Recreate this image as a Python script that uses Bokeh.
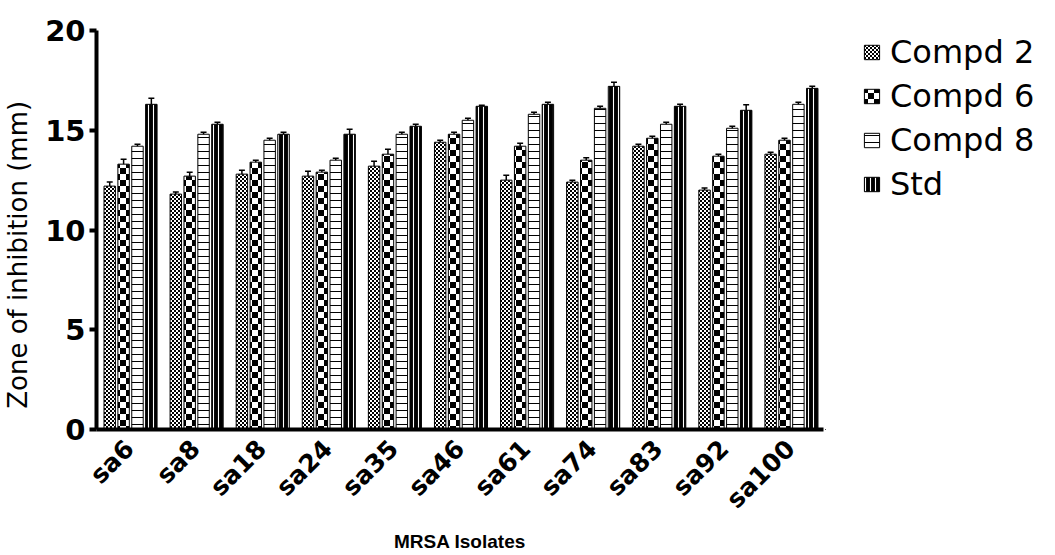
import math
import zlib
import struct
import base64
from bokeh.plotting import figure
from bokeh.layouts import row
from bokeh.models import (ColumnDataSource, Range1d, FactorRange, Legend, LegendItem,
                          ImageURLTexture, FixedTicker)
from bokeh.transform import dodge
from bokeh.core.properties import value
from bokeh.embed import file_html
from bokeh.resources import INLINE

# ---- data ----
isolates = ["sa6", "sa8", "sa18", "sa24", "sa35", "sa46", "sa61", "sa74", "sa83", "sa92", "sa100"]
compd2 = [12.2, 11.8, 12.8, 12.7, 13.2, 14.4, 12.5, 12.4, 14.2, 12.0, 13.8]
compd6 = [13.3, 12.7, 13.4, 12.9, 13.8, 14.8, 14.2, 13.5, 14.6, 13.7, 14.5]
compd8 = [14.2, 14.8, 14.5, 13.5, 14.8, 15.5, 15.8, 16.1, 15.3, 15.1, 16.3]
std = [16.3, 15.3, 14.8, 14.8, 15.2, 16.2, 16.3, 17.2, 16.2, 16.0, 17.1]
err2 = [0.2, 0.1, 0.2, 0.25, 0.25, 0.1, 0.25, 0.1, 0.1, 0.1, 0.1]
err6 = [0.25, 0.2, 0.1, 0.1, 0.25, 0.1, 0.15, 0.12, 0.1, 0.1, 0.1]
err8 = [0.1, 0.1, 0.1, 0.1, 0.1, 0.1, 0.1, 0.1, 0.1, 0.1, 0.1]
errs = [0.3, 0.1, 0.1, 0.25, 0.1, 0.05, 0.1, 0.2, 0.1, 0.28, 0.1]
series_names = ["Compd 2", "Compd 6", "Compd 8", "Std"]
y_ticks = [0, 5, 10, 15, 20]

src = ColumnDataSource(dict(
    iso=isolates, c2=compd2, c6=compd6, c8=compd8, std=std,
    c2_hi=[v + e for v, e in zip(compd2, err2)],
    c6_hi=[v + e for v, e in zip(compd6, err6)],
    c8_hi=[v + e for v, e in zip(compd8, err8)],
    std_hi=[v + e for v, e in zip(std, errs)],
))


# ---- checkerboard fill textures (tiny PNGs) ----
def checker_png(square):
    n = 2 * square
    raw = b""
    for r in range(n):
        row_px = bytes(0 if ((r // square) + (c // square)) % 2 == 0 else 255 for c in range(n))
        raw += b"\x00" + row_px

    def chunk(t, d):
        return struct.pack(">I", len(d)) + t + d + struct.pack(">I", zlib.crc32(t + d) & 0xffffffff)

    png = (b"\x89PNG\r\n\x1a\n" + chunk(b"IHDR", struct.pack(">IIBBBBB", n, n, 8, 0, 0, 0, 0))
           + chunk(b"IDAT", zlib.compress(raw)) + chunk(b"IEND", b""))
    return "data:image/png;base64," + base64.b64encode(png).decode()


STYLES = [
    dict(fill_color="white", line_color="black", line_width=1,
         hatch_pattern=value("fine"), hatch_extra={"fine": ImageURLTexture(url=checker_png(2))}),
    dict(fill_color="white", line_color="black", line_width=1,
         hatch_pattern=value("coarse"), hatch_extra={"coarse": ImageURLTexture(url=checker_png(6))}),
    dict(fill_color="white", line_color="black", line_width=1,
         hatch_pattern="horizontal_line", hatch_scale=7, hatch_weight=1, hatch_color="black"),
    dict(fill_color="black", line_color="black", line_width=1,
         hatch_pattern="vertical_line", hatch_scale=5, hatch_weight=1.1, hatch_color="white"),
]

H = 555
FL, FT, FW, FH = 94, 30, 729, 401
PW = FL + FW + 2
p = figure(width=PW, height=H, x_range=FactorRange(factors=isolates, range_padding=0),
           y_range=Range1d(0, 20), output_backend="svg", toolbar_location=None,
           min_border_left=FL, min_border_right=2, min_border_top=FT,
           min_border_bottom=H - FT - FH)
p.outline_line_color = None
p.xgrid.grid_line_color = None
p.ygrid.grid_line_color = None
p.background_fill_color = "white"

BW = 0.173
offs = [-0.30, -0.09, 0.12, 0.33]
cols = ["c2", "c6", "c8", "std"]
his = ["c2_hi", "c6_hi", "c8_hi", "std_hi"]

for off, col, st in zip(offs, cols, STYLES):
    p.vbar(x=dodge("iso", off, range=p.x_range), top=col, width=BW, source=src, **st)

# error bars (upper only)
for off, lo, hi in zip(offs, cols, his):
    p.segment(x0=dodge("iso", off, range=p.x_range), y0=lo,
              x1=dodge("iso", off, range=p.x_range), y1=hi,
              source=src, line_color="black", line_width=1.5)
    p.segment(x0=dodge("iso", off - 0.045, range=p.x_range), y0=hi,
              x1=dodge("iso", off + 0.045, range=p.x_range), y1=hi,
              source=src, line_color="black", line_width=1.5)

# axes
p.yaxis.ticker = FixedTicker(ticks=y_ticks)
p.yaxis.axis_line_width = 4
p.yaxis.axis_line_color = "black"
p.yaxis.major_tick_line_width = 4
p.yaxis.major_tick_line_color = "black"
p.yaxis.major_tick_out = 7
p.yaxis.major_tick_in = 0
p.yaxis.minor_tick_line_color = None
p.yaxis.major_label_text_font = "DejaVu Sans"
p.yaxis.major_label_text_font_style = "bold"
p.yaxis.major_label_text_font_size = "29px"
p.yaxis.major_label_text_color = "black"
p.yaxis.major_label_standoff = 4
p.yaxis.axis_label = "Zone of inhibition (mm)" + "\u00a0" * 6
p.yaxis.axis_label_text_font = "DejaVu Sans"
p.yaxis.axis_label_text_font_style = "normal"
p.yaxis.axis_label_text_font_size = "26px"
p.yaxis.axis_label_text_color = "black"
p.yaxis.axis_label_standoff = 9

p.xaxis.axis_line_width = 4
p.xaxis.axis_line_color = "black"
p.xaxis.major_tick_line_color = None
p.xaxis.minor_tick_line_color = None
p.xaxis.major_label_orientation = math.pi / 4
p.xaxis.major_label_text_font = "DejaVu Sans"
p.xaxis.major_label_text_font_style = "bold"
p.xaxis.major_label_text_font_size = "25px"
p.xaxis.major_label_text_color = "black"
p.xaxis.major_label_standoff = 9
p.xaxis.axis_label = "MRSA Isolates"
p.xaxis.axis_label_text_font = "Liberation Sans"
p.xaxis.axis_label_text_font_style = "bold"
p.xaxis.axis_label_text_font_size = "19px"
p.xaxis.axis_label_text_color = "black"
p.xaxis.axis_label_standoff = 4

# ---- legend panel (separate figure to the right; its frame aligns with the chart's) ----
LW = 1055 - PW
lf = figure(width=LW, height=H, x_range=Range1d(0, 1), y_range=Range1d(0, 1),
            output_backend="svg", toolbar_location=None, min_border=0)
lf.axis.visible = False
lf.grid.visible = False
lf.outline_line_color = None
# swatch-only renderers: one off-screen entry so the legend can draw each pattern
swatch_src = ColumnDataSource(dict(x=[-5.0], top=[-5.0]))
swatches = [lf.vbar(x="x", top="top", width=0.1, source=swatch_src, **st) for st in STYLES]

legend = Legend(items=[LegendItem(label=n, renderers=[r]) for n, r in zip(series_names, swatches)],
                location=(862 - PW, 226), padding=0, margin=0, border_line_color=None,
                background_fill_alpha=0, glyph_width=19, glyph_height=18,
                label_text_font="DejaVu Sans", label_text_font_size="32px",
                label_text_color="black", label_standoff=9, spacing=6)
lf.add_layout(legend)

layout = row(p, lf, spacing=0)
open("out.html", "w").write(file_html(layout, INLINE))
